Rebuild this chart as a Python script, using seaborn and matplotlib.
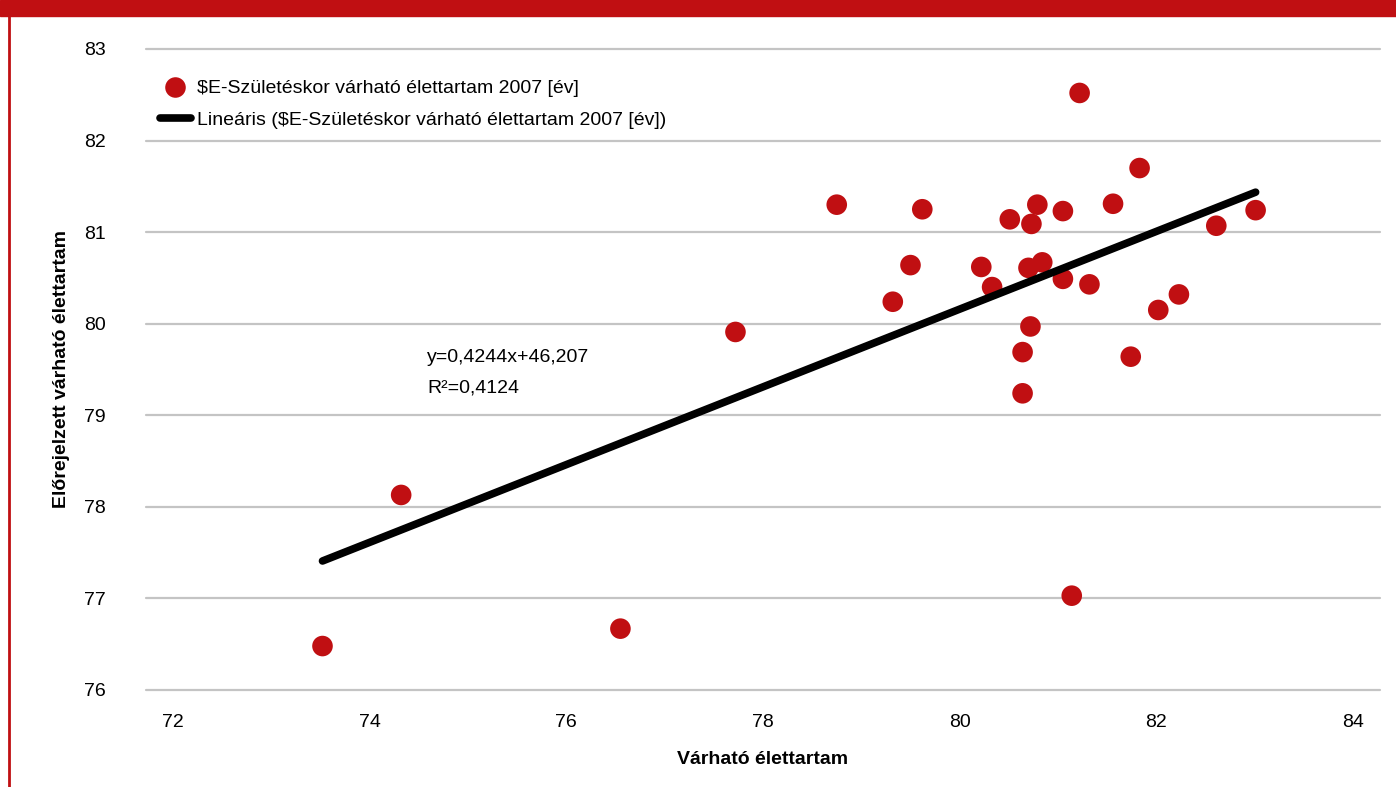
import numpy as np
import pandas as pd
import matplotlib
matplotlib.use("Agg")
import matplotlib.pyplot as plt
import seaborn as sns
from matplotlib.lines import Line2D
from matplotlib.patches import Rectangle

# values
varhato = [73.52, 74.32, 76.55, 77.72, 78.75, 79.32, 79.50, 79.62, 80.22, 80.33,
           80.51, 80.64, 80.64, 80.70, 80.72, 80.73, 80.79, 80.84, 81.05, 81.05,
           81.14, 81.22, 81.32, 81.56, 81.74, 81.83, 82.02, 82.23, 82.61, 83.01]
elorejelzett = [76.48, 78.13, 76.67, 79.91, 81.30, 80.24, 80.64, 81.25, 80.62, 80.40,
                81.14, 79.69, 79.24, 80.61, 79.97, 81.09, 81.30, 80.67, 81.23, 80.49,
                77.03, 82.52, 80.43, 81.31, 79.64, 81.70, 80.15, 80.32, 81.07, 81.24]
slope, intercept = 0.4244, 46.207
r2_text = "0,4124"
x_ticks = [72, 74, 76, 78, 80, 82, 84]
y_ticks = [76, 77, 78, 79, 80, 81, 82, 83]

series_name = "$E-Születéskor várható élettartam 2007 [év]"
trend_name = "Lineáris ($E-Születéskor várható élettartam 2007 [év])"

sns.set_theme(style="white")
plt.rcParams['font.family'] = ['Liberation Sans', 'DejaVu Sans']
plt.rcParams['text.color'] = 'black'
plt.rcParams['axes.labelcolor'] = 'black'

red = "#c00f12"
df = pd.DataFrame({"x": varhato, "y": elorejelzett})

fig = plt.figure(figsize=(13.96, 7.87), dpi=100)
ax = fig.add_axes([146 / 1396, 1 - 690 / 787, (1380 - 146) / 1396, (690 - 49) / 787])

for yt in y_ticks:
    ax.axhline(yt, color="#c4c4c4", lw=1.6, zorder=0, clip_on=False)

sns.scatterplot(data=df, x="x", y="y", ax=ax, color=red, s=220,
                edgecolor="none", zorder=3, legend=False)

xs = np.array([min(varhato), max(varhato)])
ax.plot(xs, slope * xs + intercept, color="black", lw=5.5,
        solid_capstyle="round", zorder=4)

ax.set_xlim(71.725, 84.275)
ax.set_ylim(76, 83)
ax.set_xticks(x_ticks)
ax.set_yticks(y_ticks)
ax.tick_params(axis="both", length=0, labelsize=14, colors="black")
ax.tick_params(axis="x", pad=17)
ax.tick_params(axis="y", pad=29)
for s in ax.spines.values():
    s.set_visible(False)
ax.grid(False)

ax.set_xlabel("Várható élettartam", fontsize=14, fontweight="bold")
ax.set_ylabel("Előrejelzett várható élettartam", fontsize=14, fontweight="bold")
ax.xaxis.set_label_coords(0.5, (690 - 760) / 641)
ax.xaxis.label.set_va("center")
ax.yaxis.set_label_coords((62 - 146) / 1234, 0.5)
ax.yaxis.label.set_va("center")

# trendline equation label
ax.text(427 / 1396, 1 - 357 / 787, "y=0,4244x+46,207", transform=fig.transFigure,
        fontsize=14, va="center", ha="left")
ax.text(427 / 1396, 1 - 388 / 787, "R²=" + r2_text, transform=fig.transFigure,
        fontsize=14, va="center", ha="left")

handles = [
    Line2D([], [], marker="o", linestyle="none", color=red, markersize=14.8,
           markeredgecolor="none", label=series_name),
    Line2D([], [], color="black", lw=5.5, solid_capstyle="round", label=trend_name),
]
fig.legend(handles=handles, loc="upper left", bbox_to_anchor=(150 / 1396, 1 - 70 / 787),
           frameon=False, fontsize=14, handlelength=1.6, handletextpad=0.3,
           labelspacing=0.7, borderpad=0)

# red banner and left frame line
fig.patches.append(Rectangle((0, 1 - 16 / 787), 1, 16 / 787, transform=fig.transFigure,
                             color=red, zorder=10))
fig.add_artist(Line2D([9 / 1396, 9 / 1396], [0, 1], transform=fig.transFigure,
                      color=red, lw=2))

fig.savefig("out.png", dpi=100)
